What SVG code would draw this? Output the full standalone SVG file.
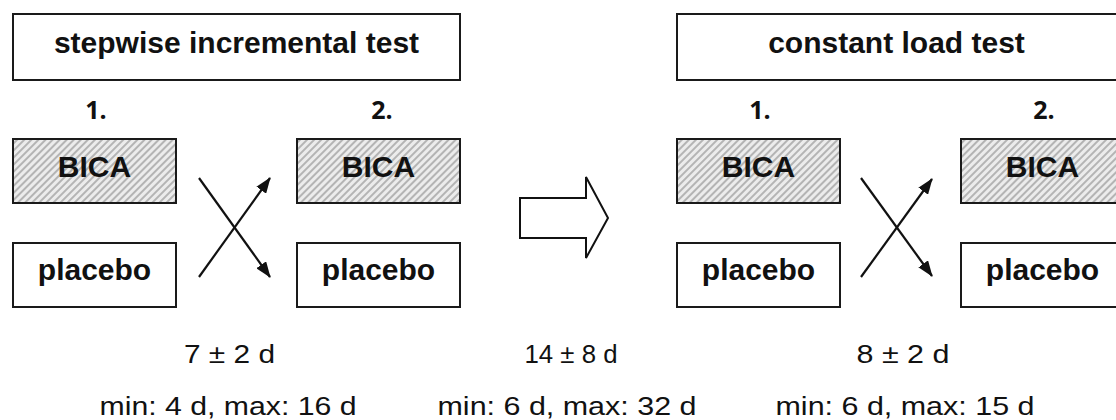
<svg xmlns="http://www.w3.org/2000/svg" width="1116" height="420" viewBox="0 0 1116 420">
<defs>
<pattern id="hatch" width="5" height="5" patternUnits="userSpaceOnUse" patternTransform="rotate(45)">
<rect width="5" height="5" fill="#ececec"/>
<rect x="0" y="0" width="2" height="5" fill="#b4b4b4"/>
</pattern>
<marker id="ah" viewBox="0 0 16 12" refX="15" refY="6" markerWidth="16" markerHeight="12" markerUnits="userSpaceOnUse" orient="auto">
<path d="M0,0 L16,6 L0,12 z" fill="#111"/>
</marker>
</defs>
<style>
.box{fill:#fff;stroke:#1a1a1a;stroke-width:2}
.hbox{fill:url(#hatch);stroke:#1a1a1a;stroke-width:2}
.bt{font-family:"Liberation Sans",Arial,sans-serif;font-weight:bold;font-size:30px;fill:#111;text-anchor:middle}
.num{font-family:"Open Sans","Liberation Sans",sans-serif;font-weight:bold;font-size:25px;fill:#111;text-anchor:middle}
.lt{font-family:"Liberation Sans",Arial,sans-serif;font-size:25px;fill:#111;text-anchor:middle}
.conn{stroke:#111;stroke-width:2.2;fill:none}
</style>
<rect width="1116" height="420" fill="#fff"/>

<g id="title-stepwise">
<rect class="box" x="13" y="14" width="447" height="66"/>
<text class="bt" x="236.5" y="53">stepwise incremental test</text>
</g>
<g id="title-constant">
<rect class="box" x="677" y="14" width="460" height="66"/>
<text class="bt" x="896.5" y="53">constant load test</text>
</g>

<g id="label-s1"><text class="num" x="96" y="119">1.</text></g>
<g id="label-s2"><text class="num" x="382" y="119">2.</text></g>
<g id="label-c1"><text class="num" x="760" y="119">1.</text></g>
<g id="label-c2"><text class="num" x="1044" y="119">2.</text></g>

<g id="s1-bica"><rect class="hbox" x="13" y="139" width="163" height="64"/><text class="bt" x="94.5" y="177">BICA</text></g>
<g id="s1-placebo"><rect class="box" x="13" y="243" width="163" height="64"/><text class="bt" x="94.5" y="280">placebo</text></g>
<g id="s2-bica"><rect class="hbox" x="297" y="139" width="163" height="64"/><text class="bt" x="378.5" y="177">BICA</text></g>
<g id="s2-placebo"><rect class="box" x="297" y="243" width="163" height="64"/><text class="bt" x="378.5" y="280">placebo</text></g>

<g id="c1-bica"><rect class="hbox" x="677" y="139" width="163" height="64"/><text class="bt" x="758.5" y="177">BICA</text></g>
<g id="c1-placebo"><rect class="box" x="677" y="243" width="163" height="64"/><text class="bt" x="758.5" y="280">placebo</text></g>
<g id="c2-bica"><rect class="hbox" x="961" y="139" width="163" height="64"/><text class="bt" x="1042.5" y="177">BICA</text></g>
<g id="c2-placebo"><rect class="box" x="961" y="243" width="163" height="64"/><text class="bt" x="1042.5" y="280">placebo</text></g>

<g id="transition-arrow">
<path d="M520,198 L586,198 L586,177 L608,218 L586,258 L586,238 L520,238 Z" fill="#fff" stroke="#111" stroke-width="2" stroke-linejoin="miter"/>
</g>

<g id="connectors">
<line class="conn" x1="199" y1="178" x2="270" y2="277" marker-end="url(#ah)"/>
<line class="conn" x1="199" y1="277" x2="270" y2="178" marker-end="url(#ah)"/>
<line class="conn" x1="861" y1="178" x2="932" y2="276" marker-end="url(#ah)"/>
<line class="conn" x1="861" y1="277" x2="932" y2="179" marker-end="url(#ah)"/>
</g>

<g id="stats">
<text class="lt" x="229.5" y="363" textLength="91" lengthAdjust="spacingAndGlyphs">7 ± 2 d</text>
<text class="lt" x="571" y="363" textLength="93" lengthAdjust="spacingAndGlyphs">14 ± 8 d</text>
<text class="lt" x="903" y="363" textLength="93" lengthAdjust="spacingAndGlyphs">8 ± 2 d</text>
<text class="lt" x="228" y="415" textLength="257" lengthAdjust="spacingAndGlyphs">min: 4 d, max: 16 d</text>
<text class="lt" x="567" y="415" textLength="259" lengthAdjust="spacingAndGlyphs">min: 6 d, max: 32 d</text>
<text class="lt" x="905" y="415" textLength="259" lengthAdjust="spacingAndGlyphs">min: 6 d, max: 15 d</text>
</g>
</svg>
